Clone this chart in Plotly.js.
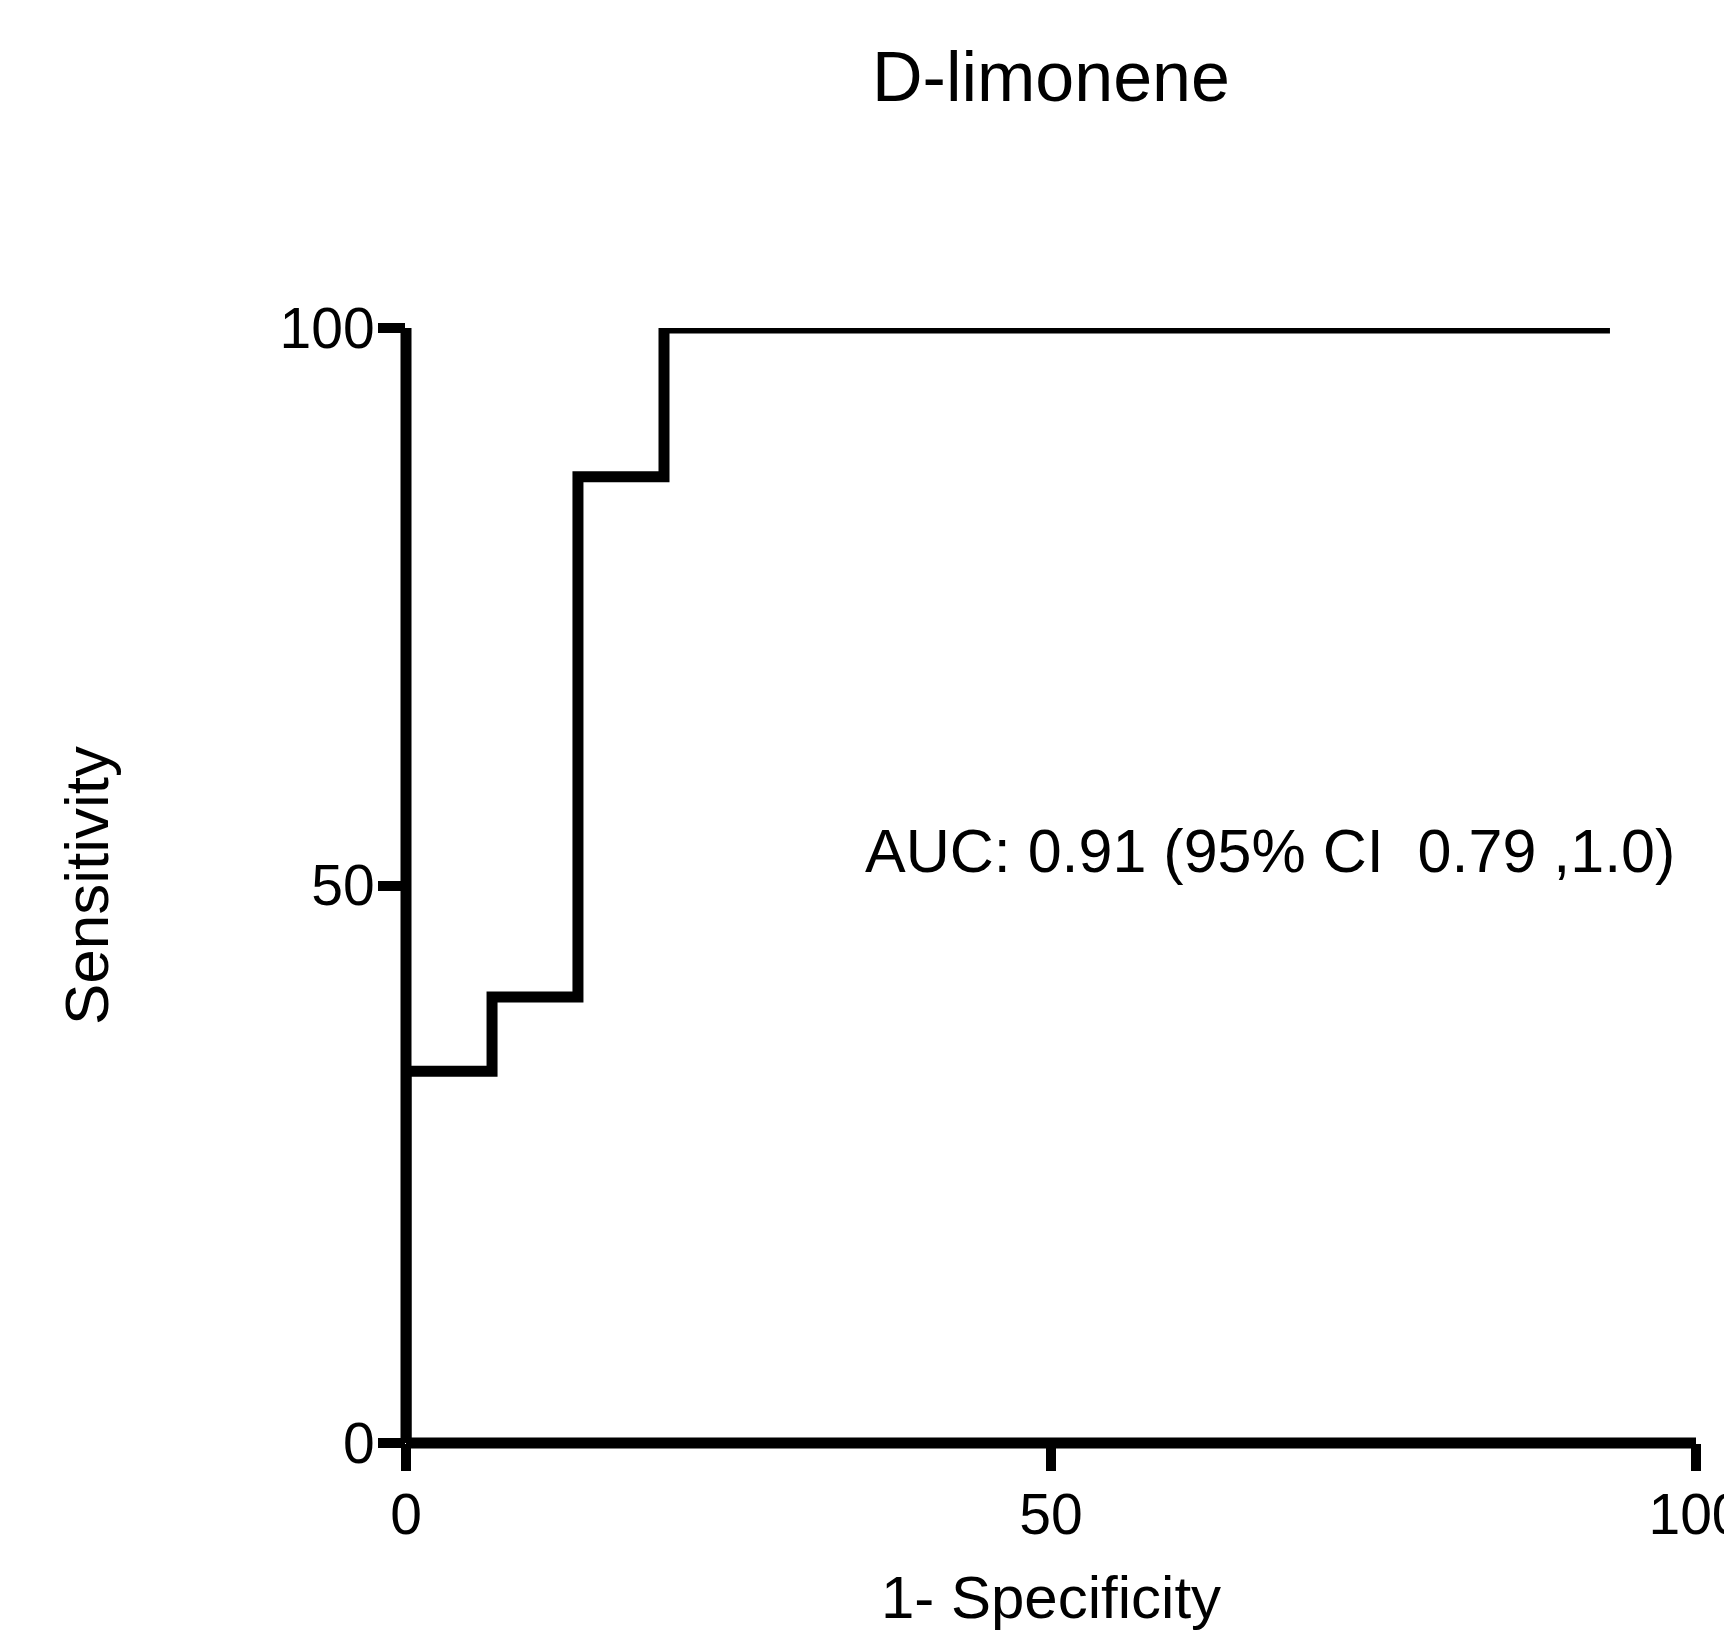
<!DOCTYPE html>
<html>
<head>
<meta charset="utf-8">
<script src="https://cdn.plot.ly/plotly-3.0.1.min.js"></script>
<style>html,body{margin:0;padding:0;background:#fff;}#chart{width:1724px;height:1631px;}</style>
</head>
<body>
<div id="chart"></div>
<script>
// ROC curve points (percent)
const specComplement = [0, 0, 6.67, 6.67, 13.33, 13.33, 20, 20, 93.33];
const sensitivity    = [0, 33.33, 33.33, 40, 40, 86.67, 86.67, 100, 100];
const xTicks = [0, 50, 100];
const yTicks = [0, 50, 100];
const chartTitle = 'D-limonene';
const xTitle = '1- Specificity';
const yTitle = 'Sensitivity';
const aucText = 'AUC: 0.91 (95% CI \u00a00.79 ,1.0)';

const FONT = 'Arial, "Liberation Sans", sans-serif';

const trace = {
  x: specComplement,
  y: sensitivity,
  type: 'scatter',
  mode: 'lines',
  line: {color: '#000', width: 11},
  hoverinfo: 'skip',
  showlegend: false
};

const layout = {
  width: 1724,
  height: 1631,
  paper_bgcolor: '#fff',
  plot_bgcolor: '#fff',
  margin: {l: 406, r: 28, t: 328, b: 188},
  font: {family: FONT, color: '#000'},
  title: {
    text: chartTitle,
    font: {family: FONT, size: 70, color: '#000'},
    x: 0.5, xref: 'paper',
    y: 1 - 76 / 1631, yref: 'container', yanchor: 'middle'
  },
  xaxis: {
    range: [0, 100],
    tickvals: xTicks,
    ticktext: xTicks.map(String),
    ticks: 'outside', ticklen: 27, tickwidth: 10, tickcolor: '#000',
    tickfont: {family: FONT, size: 57, color: '#000'},
    ticklabelstandoff: -5,
    ticklabeloverflow: 'allow',
    showgrid: false, zeroline: false, showline: false,
    automargin: false, fixedrange: true,
    title: {text: xTitle, font: {family: FONT, size: 60, color: '#000'}, standoff: 30}
  },
  yaxis: {
    range: [0, 100],
    tickvals: yTicks,
    ticktext: yTicks.map(String),
    ticks: 'outside', ticklen: 27, tickwidth: 10, tickcolor: '#000',
    tickfont: {family: FONT, size: 57, color: '#000'},
    ticklabelstandoff: -8,
    ticklabeloverflow: 'allow',
    showgrid: false, zeroline: false, showline: false,
    automargin: false, fixedrange: true,
    title: {text: yTitle, font: {family: FONT, size: 62, color: '#000'}, standoff: 150}
  },
  shapes: [
    {type: 'line', xref: 'paper', yref: 'paper', x0: 0, x1: 0, y0: 0, y1: 1, line: {color: '#000', width: 11}, layer: 'above'},
    {type: 'line', xref: 'paper', yref: 'paper', x0: 0, x1: 1, y0: 0, y1: 0, line: {color: '#000', width: 11}, layer: 'above'}
  ],
  annotations: [
    {text: aucText, xref: 'x', yref: 'y', x: 35.4, y: 53.1, xanchor: 'left', yanchor: 'middle',
     showarrow: false, font: {family: FONT, size: 61, color: '#000'}}
  ]
};

Plotly.newPlot('chart', [trace], layout, {displayModeBar: false, staticPlot: true});
</script>
</body>
</html>
